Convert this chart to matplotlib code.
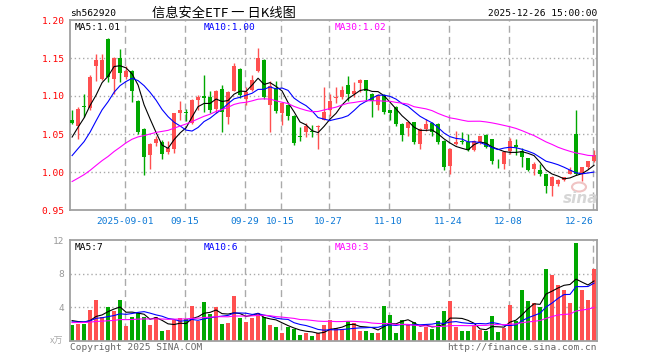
import numpy as np
import pandas as pd
import matplotlib
matplotlib.use('Agg')
import matplotlib.pyplot as plt
from matplotlib.patches import Ellipse

plt.rcParams['lines.scale_dashes'] = False

symbol = 'sh562920'
title = '信息安全ETF 一 日K线图'
timestamp = '2025-12-26 15:00:00'

start_date = '2025-08-19'
end_date = '2025-12-26'
holidays = ['2025-10-01', '2025-10-02', '2025-10-03', '2025-10-06', '2025-10-07', '2025-10-08']

opens = [1.069, 1.061, 1.087, 1.084, 1.139, 1.123, 1.175, 1.123, 1.150, 1.125,
         1.133, 1.094, 1.057, 1.022, 1.038, 1.039, 1.026, 1.030, 1.077, 1.079,
         1.064, 1.095, 1.100, 1.099, 1.083, 1.109, 1.073, 1.107, 1.136, 1.096,
         1.108, 1.133, 1.148, 1.088, 1.110, 1.077, 1.088, 1.074, 1.047, 1.052,
         1.054, 1.059, 1.069, 1.081, 1.098, 1.099, 1.115, 1.103, 1.117, 1.121,
         1.102, 1.088, 1.101, 1.081, 1.086, 1.063, 1.058, 1.066, 1.037, 1.057,
         1.065, 1.063, 1.041, 1.008, 1.037, 1.041, 1.040, 1.029, 1.040, 1.049,
         1.043, 1.015, 1.011, 1.028, 1.036, 1.027, 1.019, 1.004, 1.002, 0.997,
         0.982, 0.984, 0.990, 0.998, 1.050, 0.997, 1.006, 1.015]
highs = [1.081, 1.085, 1.102, 1.127, 1.155, 1.155, 1.176, 1.151, 1.162, 1.140,
         1.134, 1.095, 1.058, 1.038, 1.047, 1.042, 1.041, 1.078, 1.093, 1.083,
         1.096, 1.101, 1.128, 1.107, 1.108, 1.114, 1.106, 1.143, 1.137, 1.112,
         1.127, 1.163, 1.149, 1.120, 1.120, 1.092, 1.090, 1.075, 1.059, 1.064,
         1.062, 1.062, 1.112, 1.102, 1.112, 1.113, 1.126, 1.118, 1.122, 1.121,
         1.104, 1.103, 1.102, 1.082, 1.087, 1.064, 1.066, 1.066, 1.058, 1.070,
         1.066, 1.064, 1.042, 1.031, 1.054, 1.052, 1.050, 1.042, 1.048, 1.050,
         1.044, 1.017, 1.028, 1.045, 1.044, 1.032, 1.019, 1.013, 1.011, 0.997,
         0.995, 0.991, 0.994, 1.007, 1.081, 1.007, 1.015, 1.029]
lows = [1.063, 1.043, 1.073, 1.082, 1.120, 1.121, 1.119, 1.103, 1.119, 1.122,
        1.092, 1.050, 0.996, 1.004, 1.034, 1.017, 1.024, 1.025, 1.068, 1.067,
        1.063, 1.081, 1.079, 1.077, 1.077, 1.053, 1.063, 1.106, 1.098, 1.088,
        1.107, 1.131, 1.096, 1.053, 1.077, 1.062, 1.068, 1.036, 1.041, 1.046,
        1.046, 1.030, 1.068, 1.074, 1.091, 1.096, 1.094, 1.099, 1.105, 1.094,
        1.073, 1.081, 1.076, 1.068, 1.061, 1.041, 1.047, 1.037, 1.030, 1.054,
        1.048, 1.037, 1.003, 0.997, 1.036, 1.037, 1.028, 1.028, 1.037, 1.032,
        1.011, 1.005, 1.004, 1.024, 1.022, 1.007, 1.001, 0.996, 0.995, 0.973,
        0.969, 0.982, 0.988, 0.997, 0.996, 0.988, 1.004, 1.013]
closes = [1.065, 1.083, 1.086, 1.125, 1.147, 1.147, 1.125, 1.150, 1.130, 1.133,
          1.107, 1.052, 1.020, 1.037, 1.044, 1.024, 1.031, 1.077, 1.081, 1.078,
          1.095, 1.099, 1.098, 1.081, 1.107, 1.079, 1.105, 1.140, 1.101, 1.105,
          1.121, 1.150, 1.099, 1.113, 1.080, 1.091, 1.074, 1.038, 1.046, 1.061,
          1.053, 1.061, 1.079, 1.094, 1.099, 1.108, 1.102, 1.106, 1.121, 1.107,
          1.094, 1.101, 1.079, 1.078, 1.063, 1.049, 1.066, 1.039, 1.057, 1.063,
          1.052, 1.040, 1.006, 1.030, 1.040, 1.040, 1.029, 1.041, 1.047, 1.033,
          1.015, 1.014, 1.026, 1.041, 1.033, 1.020, 1.003, 1.011, 0.997, 0.982,
          0.994, 0.989, 0.993, 1.003, 0.998, 1.006, 1.014, 1.023]
volumes = [1.88, 2.0, 2.0, 3.68, 4.88, 2.8, 3.96, 3.56, 4.88, 1.76,
           2.88, 3.36, 2.88, 1.88, 2.8, 1.2, 1.28, 2.48, 2.68, 2.56,
           4.16, 2.4, 4.56, 3.2, 3.96, 2.0, 2.16, 5.28, 2.76, 2.28,
           2.68, 3.36, 2.8, 1.88, 1.68, 0.96, 1.68, 1.36, 0.68, 0.96,
           0.56, 0.88, 1.88, 2.48, 1.48, 1.36, 2.36, 2.08, 1.2, 1.2,
           0.96, 0.96, 4.08, 3.08, 0.96, 2.48, 1.88, 2.28, 1.08, 1.6,
           1.36, 2.3, 3.5, 4.7, 1.6, 1.16, 1.16, 1.8, 1.3, 1.16,
           3.0, 1.04, 1.56, 4.3, 2.36, 6.1, 4.7, 4.5, 4.0, 8.5,
           7.8, 6.6, 6.1, 4.5, 11.7, 6.0, 4.9, 8.5]

# estimated sessions before the visible window (needed for the moving averages)
prior_closes = [0.950, 0.948, 0.955, 0.952, 0.958, 0.960, 0.955, 0.962, 0.958, 0.965,
                0.960, 0.968, 0.975, 0.980, 0.985, 0.990, 0.992, 0.995, 0.998, 1.002,
                0.990, 0.995, 1.000, 0.998, 1.003, 1.018, 1.025, 1.043, 1.079]
prior_volumes = [2.0, 1.8, 2.4, 2.2, 1.9, 2.6, 2.3, 1.7, 2.1, 2.5,
                 1.9, 2.2, 2.0, 2.4, 1.8, 2.3, 2.1, 2.0, 2.3, 1.9,
                 2.1, 1.9, 2.3, 2.0, 2.1, 2.6, 2.3, 2.8, 2.42]

tick_dates = ['2025-09-01', '2025-09-15', '2025-09-29', '2025-10-15', '2025-10-27',
              '2025-11-10', '2025-11-24', '2025-12-08', '2025-12-26']
tick_labels = ['2025-09-01', '09-15', '09-29', '10-15', '10-27',
               '11-10', '11-24', '12-08', '12-26']
price_ticks = [0.95, 1.00, 1.05, 1.10, 1.15, 1.20]
price_tick_labels = ['0.95', '1.00', '1.05', '1.10', '1.15', '1.20']
vol_ticks = [4, 8, 12]
vol_tick_labels = ['4', '8', '12']
vol_unit = 'x万'
copyright_text = 'Copyright 2025 SINA.COM'
url_text = 'http://finance.sina.com.cn'

# ---------------------------------------------------------------
W, H = 660, 360
RED = '#ff5050'
GREEN = '#00a800'
GRID = '#aaaaaa'
BORDER = '#a0a0a0'
MONO = 'DejaVu Sans Mono'
FS = 6.8

dates = pd.bdate_range(start_date, end_date)
dates = dates[~dates.isin(pd.to_datetime(holidays))]
date_str = [d.strftime('%Y-%m-%d') for d in dates]
tick_idx = [date_str.index(d) for d in tick_dates]

o = np.array(opens); h = np.array(highs); l = np.array(lows); c = np.array(closes)
v = np.array(volumes)
n = len(c)
x = np.arange(n)
up = c >= o
colors = np.where(up, RED, GREEN)


def ma(prior, vals, k):
    full = pd.Series(np.concatenate([prior, vals]))
    return full.rolling(k).mean().values[len(prior):]


ma_specs = [(5, 'black'), (10, '#0000ff'), (30, '#ff00ff')]

fig = plt.figure(figsize=(W / 100, H / 100), dpi=100)
fig.patch.set_facecolor('white')

L, R = 70, 597.3
ax = fig.add_axes([L / W, 1 - 210 / H, (R - L) / W, 190 / H])
axv = fig.add_axes([L / W, 1 - 340.7 / H, (R - L) / W, 100.7 / H])

for a in (ax, axv):
    a.set_xlim(-0.35, 87.55)
    for s in a.spines.values():
        s.set_color(BORDER)
        s.set_linewidth(1.3)
    a.set_xticks([])
    a.tick_params(axis='y', length=0, pad=4)
    for ti in tick_idx:
        a.axvline(ti - 0.25, color=GRID, lw=1.0, dashes=(5, 3), zorder=0)

# price panel
ax.set_ylim(0.95, 1.20)
ax.set_yticks(price_ticks)
ax.set_yticklabels(price_tick_labels, color='#ff0000', family=MONO, fontsize=FS)
for yv in price_ticks[1:-1]:
    ax.axhline(yv, color=GRID, lw=1.0, dashes=(1, 2), zorder=0)

ax.vlines(x, l, h, colors=colors, lw=1.0, zorder=2)
body_bottom = np.minimum(o, c)
body_h = np.maximum(np.abs(c - o), 0.0009)
ax.bar(x, body_h, bottom=body_bottom, width=0.75, color=colors, linewidth=0, zorder=3)

price_ma = {}
for k, col in ma_specs:
    m = ma(np.array(prior_closes), c, k)
    price_ma[k] = m
    ax.plot(x, m, color=col, lw=0.8, zorder=4)

for ti, lab in zip(tick_idx, tick_labels):
    ha = 'right' if ti == n - 1 else 'center'
    ax.text(ti - 0.25 + (0.2 if ha == 'right' else 0), -11 / 190, lab,
            transform=ax.get_xaxis_transform(), ha=ha, va='center',
            color='#0b78d6', family=MONO, fontsize=FS)

# volume panel
axv.set_ylim(0, 12)
axv.set_yticks(vol_ticks)
axv.set_yticklabels(vol_tick_labels, color='#999999', family=MONO, fontsize=FS)
for yv in vol_ticks[:-1]:
    axv.axhline(yv, color=GRID, lw=1.0, dashes=(1, 2), zorder=0)
axv.bar(x, v, width=0.8, color=colors, linewidth=0, zorder=2)
vol_ma = {}
for k, col in ma_specs:
    m = ma(np.array(prior_volumes), v, k)
    vol_ma[k] = m
    axv.plot(x, m, color=col, lw=0.8, zorder=4)


def ftext(px, py, s, **kw):
    fig.text(px / W, 1 - py / H, s, **kw)


ftext(70, 13, symbol, ha='left', va='center', family=MONO, fontsize=FS, color='black')
ftext(152, 13, title, ha='left', va='center', family=['Noto Sans CJK SC', 'DejaVu Sans'],
      fontsize=9.5, color='black')
ftext(597, 13, timestamp, ha='right', va='center', family=MONO, fontsize=FS, color='black')

label_x = [75, 204, 334.7]
for (k, col), lx in zip(ma_specs, label_x):
    ftext(lx, 27, 'MA%d:%.2f' % (k, price_ma[k][-1]), ha='left', va='center',
          family=MONO, fontsize=FS, color=col)
    ftext(lx, 247, 'MA%d:%d' % (k, int(np.floor(vol_ma[k][-1]))), ha='left', va='center',
          family=MONO, fontsize=FS, color=col)

ftext(70, 347, copyright_text, ha='left', va='center', family=MONO, fontsize=FS, color='#666666')
ftext(597, 347, url_text, ha='right', va='center', family=MONO, fontsize=FS, color='#666666')
ftext(57, 341, vol_unit, ha='center', va='center', family=['Noto Sans CJK SC', 'DejaVu Sans'],
      fontsize=6.5, color='#aaaaaa', style='italic')

# sina watermark
ftext(581, 198, 'sina', ha='center', va='center', family='DejaVu Sans', fontsize=11,
      fontweight='bold', style='italic', color='#d6d6d6')
fig.patches.append(Ellipse((579 / W, 1 - 187 / H), 14 / W, 9 / H, transform=fig.transFigure,
                           fill=False, edgecolor='#f0c4c4', lw=1.5))

fig.savefig('out.png', dpi=100)
